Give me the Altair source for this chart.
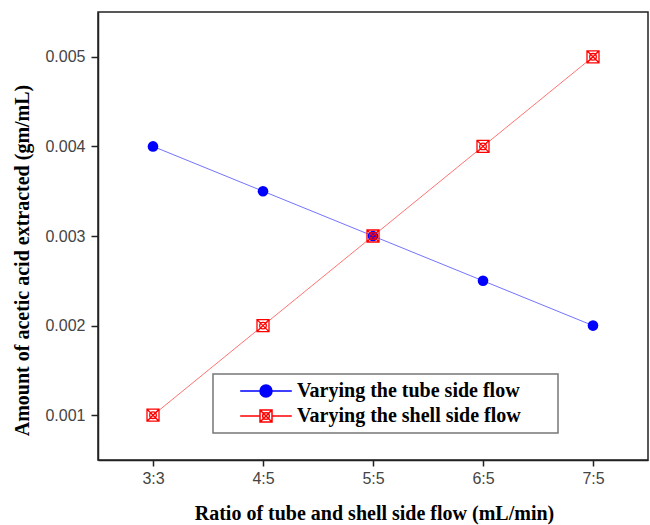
import altair as alt
import pandas as pd

ratios = ["3:3", "4:5", "5:5", "6:5", "7:5"]
tube_side = [0.004, 0.0035, 0.003, 0.0025, 0.002]
shell_side = [0.001, 0.002, 0.003, 0.004, 0.005]
series_names = ["Varying the tube side flow", "Varying the shell side flow"]
y_ticks = [0.001, 0.002, 0.003, 0.004, 0.005]

rows = []
for r, v in zip(ratios, tube_side):
    rows.append({"ratio": r, "value": v, "series": series_names[0]})
for r, v in zip(ratios, shell_side):
    rows.append({"ratio": r, "value": v, "series": series_names[1]})
df = pd.DataFrame(rows)

SERIF = "Liberation Serif"
SANS = "Liberation Sans"

red_marker = ("M-1,-1H1V1H-1Z M-1,-1L1,1 M1,-1L-1,1 "
              "M0.55,0A0.55,0.55,0,1,1,-0.55,0A0.55,0.55,0,1,1,0.55,0Z")
legend_blue = ("M-4.3,0H4.3 M1,0A1,1,0,1,1,-1,0A1,1,0,1,1,1,0Z")
legend_red = ("M-4.3,0H-1 M1,0H4.3 M-1,-1H1V1H-1Z M-1,-1L1,1 M1,-1L-1,1 "
              "M0.55,0A0.55,0.55,0,1,1,-0.55,0A0.55,0.55,0,1,1,0.55,0Z")

x_enc = alt.X(
    "ratio:N",
    sort=ratios,
    scale=alt.Scale(type="point", padding=0.5),
    axis=alt.Axis(
        title="Ratio of tube and shell side flow (mL/min)",
        labelAngle=0,
        labelFont=SANS,
        labelFontSize=16,
        labelColor="#444444",
        labelPadding=4,
        tickSize=6,
        tickWidth=1.5,
        tickColor="#222222",
        domainColor="#222222",
        domainWidth=1.5,
        titleFont=SERIF,
        titleFontSize=20,
        titleFontWeight="bold",
        titleColor="black",
        titleX=276,
        titleY=53,
        titleAlign="center",
        titleBaseline="middle",
    ),
)
y_enc = alt.Y(
    "value:Q",
    scale=alt.Scale(domain=[0.0005, 0.0055], nice=False, zero=False),
    axis=alt.Axis(
        title="Amount of acetic acid extracted (gm/mL)",
        values=y_ticks,
        format=".3f",
        grid=False,
        labelFont=SANS,
        labelFontSize=16,
        labelColor="#444444",
        labelPadding=6,
        tickSize=7,
        tickWidth=1.5,
        tickColor="#222222",
        domainColor="#222222",
        domainWidth=1.5,
        titleFont=SERIF,
        titleFontSize=20,
        titleFontWeight="bold",
        titleColor="black",
        titleAngle=270,
        titleX=-76,
        titleY=248,
        titleAlign="center",
        titleBaseline="middle",
    ),
)

lines = alt.Chart(df).mark_line(strokeWidth=1, opacity=0.55).encode(
    x=x_enc,
    y=y_enc,
    color=alt.Color(
        "series:N",
        scale=alt.Scale(domain=series_names, range=["#0000ff", "#ff0000"]),
        legend=None,
    ),
)

leg = alt.Legend(
    title=None,
    orient="none",
    legendX=115,
    legendY=362,
    padding=7,
    rowPadding=5,
    strokeColor="#777777",
    fillColor="white",
    symbolSize=144,
    symbolStrokeWidth=1.5,
    symbolOpacity=1,
    symbolOffset=36,
    labelOffset=21,
    labelFont=SERIF,
    labelFontSize=20,
    labelFontWeight="bold",
    labelColor="black",
    labelLimit=400,
    labelExpr="datum.label + '\u2800\u2800'",
)

legend_layer = alt.Chart(df).mark_point(filled=True, opacity=0, size=144).encode(
    x=x_enc,
    y=y_enc,
    shape=alt.Shape("series:N", sort=series_names,
                    scale=alt.Scale(domain=series_names, range=[legend_blue, legend_red]),
                    legend=leg),
    fill=alt.Fill("series:N", sort=series_names,
                  scale=alt.Scale(domain=series_names, range=["#0000ff", "transparent"]),
                  legend=leg),
    stroke=alt.Stroke("series:N", sort=series_names,
                      scale=alt.Scale(domain=series_names, range=["#0000ff", "#ff0000"]),
                      legend=leg),
)

blue_pts = alt.Chart(df).transform_filter(
    alt.datum.series == series_names[0]
).mark_point(shape="circle", filled=True, size=113, color="#0000ff", opacity=1).encode(
    x=x_enc, y=y_enc
)

red_pts = alt.Chart(df).transform_filter(
    alt.datum.series == series_names[1]
).mark_point(shape=red_marker, filled=False, size=144, color="#ff0000",
             strokeWidth=1.3, opacity=1).encode(
    x=x_enc, y=y_enc
)

chart = alt.layer(lines, legend_layer, blue_pts, red_pts).resolve_scale(
    color="independent"
).properties(
    width=550,
    height=448,
    autosize=alt.AutoSizeParams(type="none"),
    padding={"left": 98, "top": 12, "right": 2, "bottom": 65},
).configure_view(
    stroke="#222222", strokeWidth=1.5
).configure_legend(
    strokeWidth=1.5
)

chart.save("out.html", embed_options={"renderer": "svg", "actions": False})
